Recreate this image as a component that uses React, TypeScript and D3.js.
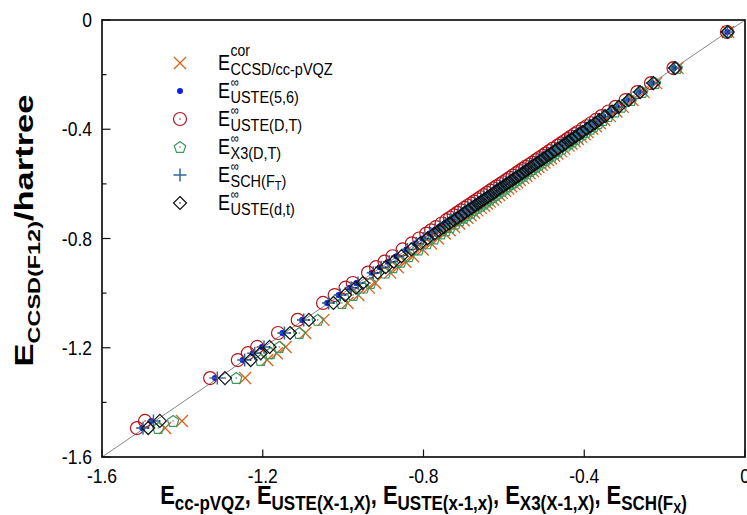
import React from 'react';
import * as d3 from 'd3';

// reference energies E_CCSD(F12) (y) per molecule
const refE = [-0.044,-0.176,-0.231,-0.264,-0.293,-0.318,-0.335,-0.352,-0.366,-0.378,-0.389,-0.398,-0.410,-0.418,-0.427,-0.436,-0.444,-0.452,-0.460,-0.471,-0.480,-0.489,-0.497,-0.506,-0.513,-0.522,-0.530,-0.538,-0.546,-0.553,-0.561,-0.570,-0.578,-0.586,-0.594,-0.601,-0.609,-0.617,-0.625,-0.633,-0.641,-0.649,-0.657,-0.665,-0.672,-0.680,-0.688,-0.697,-0.706,-0.715,-0.724,-0.733,-0.745,-0.758,-0.770,-0.782,-0.800,-0.818,-0.840,-0.865,-0.885,-0.905,-0.925,-0.963,-0.980,-1.007,-1.036,-1.098,-1.146,-1.197,-1.220,-1.245,-1.311,-1.468,-1.494];
const eVQZ = [-0.042,-0.168,-0.221,-0.252,-0.280,-0.304,-0.320,-0.336,-0.350,-0.361,-0.371,-0.380,-0.392,-0.399,-0.408,-0.416,-0.424,-0.432,-0.439,-0.450,-0.458,-0.467,-0.475,-0.483,-0.490,-0.499,-0.506,-0.514,-0.521,-0.528,-0.536,-0.544,-0.552,-0.560,-0.567,-0.574,-0.582,-0.589,-0.597,-0.605,-0.612,-0.620,-0.627,-0.635,-0.642,-0.649,-0.657,-0.666,-0.674,-0.683,-0.691,-0.700,-0.711,-0.724,-0.735,-0.747,-0.764,-0.781,-0.802,-0.826,-0.845,-0.864,-0.883,-0.920,-0.936,-0.962,-0.989,-1.049,-1.094,-1.143,-1.165,-1.189,-1.244,-1.401,-1.443];
const eUSTE56 = [-0.044,-0.177,-0.232,-0.265,-0.294,-0.319,-0.336,-0.353,-0.367,-0.380,-0.391,-0.400,-0.412,-0.420,-0.429,-0.438,-0.446,-0.454,-0.462,-0.473,-0.482,-0.491,-0.499,-0.508,-0.515,-0.524,-0.532,-0.540,-0.548,-0.555,-0.563,-0.572,-0.580,-0.588,-0.596,-0.603,-0.611,-0.619,-0.628,-0.636,-0.644,-0.652,-0.660,-0.668,-0.675,-0.683,-0.691,-0.700,-0.709,-0.718,-0.727,-0.736,-0.748,-0.761,-0.773,-0.785,-0.803,-0.821,-0.843,-0.868,-0.889,-0.909,-0.929,-0.967,-0.984,-1.011,-1.040,-1.102,-1.151,-1.202,-1.225,-1.250,-1.319,-1.478,-1.500];
const eUSTEDT = [-0.045,-0.178,-0.234,-0.268,-0.297,-0.322,-0.340,-0.357,-0.371,-0.383,-0.394,-0.404,-0.416,-0.424,-0.433,-0.442,-0.450,-0.458,-0.466,-0.478,-0.487,-0.496,-0.504,-0.513,-0.520,-0.529,-0.537,-0.546,-0.554,-0.561,-0.569,-0.578,-0.586,-0.594,-0.602,-0.609,-0.618,-0.626,-0.634,-0.642,-0.650,-0.658,-0.666,-0.674,-0.681,-0.690,-0.698,-0.707,-0.716,-0.725,-0.734,-0.743,-0.755,-0.769,-0.781,-0.793,-0.811,-0.829,-0.852,-0.877,-0.897,-0.918,-0.938,-0.976,-0.994,-1.021,-1.050,-1.113,-1.162,-1.214,-1.237,-1.262,-1.331,-1.493,-1.513];
const eX3DT = [-0.043,-0.170,-0.224,-0.256,-0.284,-0.308,-0.324,-0.341,-0.354,-0.366,-0.377,-0.385,-0.397,-0.405,-0.413,-0.422,-0.430,-0.438,-0.445,-0.456,-0.465,-0.473,-0.481,-0.490,-0.497,-0.505,-0.513,-0.521,-0.529,-0.535,-0.543,-0.552,-0.560,-0.567,-0.575,-0.582,-0.590,-0.597,-0.605,-0.613,-0.620,-0.628,-0.636,-0.644,-0.650,-0.658,-0.666,-0.675,-0.683,-0.692,-0.701,-0.710,-0.721,-0.734,-0.745,-0.757,-0.774,-0.792,-0.813,-0.837,-0.857,-0.876,-0.895,-0.932,-0.949,-0.975,-1.003,-1.063,-1.109,-1.159,-1.181,-1.205,-1.266,-1.423,-1.460];
const eSCH = [-0.044,-0.176,-0.231,-0.264,-0.293,-0.318,-0.335,-0.352,-0.366,-0.378,-0.389,-0.398,-0.410,-0.418,-0.427,-0.436,-0.444,-0.452,-0.460,-0.471,-0.480,-0.489,-0.497,-0.506,-0.513,-0.522,-0.530,-0.538,-0.546,-0.553,-0.561,-0.570,-0.578,-0.586,-0.594,-0.601,-0.609,-0.617,-0.625,-0.633,-0.641,-0.649,-0.657,-0.665,-0.672,-0.680,-0.688,-0.697,-0.706,-0.715,-0.724,-0.733,-0.745,-0.758,-0.770,-0.782,-0.800,-0.818,-0.840,-0.865,-0.885,-0.905,-0.925,-0.963,-0.980,-1.007,-1.036,-1.098,-1.146,-1.197,-1.220,-1.245,-1.313,-1.472,-1.498];
const eUSTEdt = [-0.043,-0.174,-0.228,-0.261,-0.289,-0.314,-0.331,-0.348,-0.362,-0.373,-0.384,-0.393,-0.405,-0.413,-0.422,-0.431,-0.439,-0.447,-0.454,-0.465,-0.474,-0.483,-0.491,-0.500,-0.507,-0.516,-0.524,-0.532,-0.539,-0.546,-0.554,-0.563,-0.571,-0.579,-0.587,-0.594,-0.602,-0.610,-0.618,-0.625,-0.633,-0.641,-0.649,-0.657,-0.664,-0.672,-0.680,-0.689,-0.698,-0.706,-0.715,-0.724,-0.736,-0.749,-0.761,-0.773,-0.790,-0.808,-0.830,-0.855,-0.874,-0.894,-0.914,-0.951,-0.968,-0.995,-1.024,-1.085,-1.132,-1.183,-1.205,-1.230,-1.294,-1.456,-1.485];

const xTickValues = [-1.6, -1.2, -0.8, -0.4, 0];
const xTickLabels = ['-1.6', '-1.2', '-0.8', '-0.4', '0'];
const yTickValues = [-1.6, -1.2, -0.8, -0.4, 0];
const yTickLabels = ['-1.6', '-1.2', '-0.8', '-0.4', '0'];
const yMinorTicks = [-1.4, -1.0, -0.6, -0.2];

const legendLabels = [
  { sup: 'cor', sub: 'CCSD/cc-pVQZ', subsub: '' },
  { sup: '\u221E', sub: 'USTE(5,6)', subsub: '' },
  { sup: '\u221E', sub: 'USTE(D,T)', subsub: '' },
  { sup: '\u221E', sub: 'X3(D,T)', subsub: '' },
  { sup: '\u221E', sub: 'SCH(F', subsub: 'T' },
  { sup: '\u221E', sub: 'USTE(d,t)', subsub: '' },
];

const FONT = "'Liberation Sans', Arial, Helvetica, sans-serif";
const ST = 1.18; // vertical text stretch

const W = 747, H = 515;
const L = 102, R = 745, T = 20, B = 457;
const xs = d3.scaleLinear().domain([-1.6, 0]).range([L, R]);
const ys = d3.scaleLinear().domain([-1.6, 0]).range([B, T]);

const C_X = '#d9601a';
const C_DOT = '#0a1ee6';
const C_CIRC = '#b3151b';
const C_PENT = '#3a9a62';
const C_PLUS = '#2c6a9e';
const C_DIAM = '#111111';

function pentPath(cx: number, cy: number, r: number) {
  const pts = d3.range(5).map(i => {
    const a = -Math.PI / 2 + i * 2 * Math.PI / 5;
    return [cx + r * Math.cos(a), cy + r * Math.sin(a)];
  });
  return 'M' + pts.map(p => p[0].toFixed(2) + ',' + p[1].toFixed(2)).join('L') + 'Z';
}

function Marker({ kind, cx, cy }: { kind: number; cx: number; cy: number }) {
  const s = 6;
  switch (kind) {
    case 0:
      return <path d={`M${cx - s},${cy - s}L${cx + s},${cy + s}M${cx - s},${cy + s}L${cx + s},${cy - s}`} stroke={C_X} strokeWidth={1.3} fill="none" />;
    case 1:
      return <circle cx={cx} cy={cy} r={3} fill={C_DOT} />;
    case 2:
      return <g><circle cx={cx} cy={cy} r={6.5} fill="none" stroke={C_CIRC} strokeWidth={1.2} /><circle cx={cx} cy={cy} r={0.8} fill={C_CIRC} /></g>;
    case 3:
      return <g><path d={pentPath(cx, cy + 0.5, 6)} fill="none" stroke={C_PENT} strokeWidth={1.2} /><circle cx={cx} cy={cy} r={0.8} fill={C_PENT} /></g>;
    case 4:
      return <path d={`M${cx - 6.5},${cy}L${cx + 6.5},${cy}M${cx},${cy - 6.5}L${cx},${cy + 6.5}`} stroke={C_PLUS} strokeWidth={1.5} fill="none" />;
    default:
      return <g><path d={`M${cx},${cy - 6.5}L${cx + 6.5},${cy}L${cx},${cy + 6.5}L${cx - 6.5},${cy}Z`} fill="none" stroke={C_DIAM} strokeWidth={1.2} /><circle cx={cx} cy={cy} r={0.8} fill={C_DIAM} /></g>;
  }
}

const seriesX = [eVQZ, eUSTE56, eUSTEDT, eX3DT, eSCH, eUSTEdt];

export default function App() {
  const legendX = 180;
  const legendY0 = 63;
  const legendDy = 28;
  return (
    <svg width={W} height={H} style={{ display: 'block', position: 'absolute', left: 0, top: 0, background: '#fff' }} fontFamily={FONT}>
      <rect x={0} y={0} width={W} height={H} fill="#fff" />
      {/* diagonal */}
      <line x1={xs(-1.6)} y1={ys(-1.6)} x2={xs(0)} y2={ys(0)} stroke="#888" strokeWidth={1} />
      {/* points */}
      {seriesX.map((arr, k) => (
        <g key={k}>
          {arr.map((v, i) => <Marker key={i} kind={k} cx={xs(v)} cy={ys(refE[i])} />)}
        </g>
      ))}
      {/* frame */}
      <rect x={L} y={T} width={R - L} height={B - T} fill="none" stroke="#111" strokeWidth={1.7} />
      {/* x ticks */}
      {xTickValues.map((v, i) => (
        <g key={'xt' + i}>
          <line x1={xs(v)} x2={xs(v)} y1={B} y2={B - 7.5} stroke="#111" strokeWidth={1.2} />
          <g transform={`translate(${xs(v)},${483}) scale(1,${ST})`}>
            <text x={0} y={0} textAnchor="middle" fontSize={17.5} fill="#000">{xTickLabels[i]}</text>
          </g>
        </g>
      ))}
      {/* y ticks */}
      {yTickValues.map((v, i) => (
        <g key={'yt' + i}>
          <line x1={L} x2={L + 8.5} y1={ys(v)} y2={ys(v)} stroke="#111" strokeWidth={1.2} />
          <g transform={`translate(${92},${ys(v) + 7}) scale(1,${ST})`}>
            <text x={0} y={0} textAnchor="end" fontSize={17.5} fill="#000">{yTickLabels[i]}</text>
          </g>
        </g>
      ))}
      {yMinorTicks.map((v, i) => (
        <line key={'ym' + i} x1={L} x2={L + 4.5} y1={ys(v)} y2={ys(v)} stroke="#111" strokeWidth={1.2} />
      ))}
      {/* legend */}
      {legendLabels.map((lab, i) => {
        const cy = legendY0 + i * legendDy;
        const base = cy + 7;
        const isInf = lab.sup === '\u221E';
        return (
          <g key={'lg' + i}>
            <Marker kind={i} cx={legendX} cy={cy} />
            <g transform={`translate(218,${base}) scale(1,${ST})`}>
              <text x={0} y={0} fontSize={18} fill="#000">E</text>
              <text x={12.5} y={isInf ? -9.5 : -11.5} fontSize={isInf ? 11.5 : 14} fill="#000">{lab.sup}</text>
              <text x={12.5} y={4} fontSize={14.5} fill="#000">
                {lab.sub}
                {lab.subsub ? <tspan fontSize={11} dy={3}>{lab.subsub}</tspan> : null}
                {lab.subsub ? <tspan dy={-3}>)</tspan> : null}
              </text>
            </g>
          </g>
        );
      })}
      {/* x title */}
      <g transform={`translate(${(L + R) / 2},${504}) scale(1,${ST})`}>
        <text x={0} y={0} textAnchor="middle" fontWeight="bold" fontSize={22} fill="#000">
          <tspan>E</tspan><tspan fontSize={17} dy={5}>cc-pVQZ</tspan>
          <tspan dy={-5}>, E</tspan><tspan fontSize={17} dy={5}>USTE(X-1,X)</tspan>
          <tspan dy={-5}>, E</tspan><tspan fontSize={17} dy={5}>USTE(x-1,x)</tspan>
          <tspan dy={-5}>, E</tspan><tspan fontSize={17} dy={5}>X3(X-1,X)</tspan>
          <tspan dy={-5}>, E</tspan><tspan fontSize={17} dy={5}>SCH(F</tspan><tspan fontSize={12} dy={3}>X</tspan><tspan fontSize={17} dy={-3}>)</tspan>
        </text>
      </g>
      {/* y title */}
      <g transform={`translate(${33},${(T + B) / 2 - 8}) scale(1,${1.38}) rotate(-90)`}>
        <text x={0} y={0} textAnchor="middle" fontWeight="bold" fontSize={25} fill="#000">
          <tspan>E</tspan><tspan fontSize={17} dy={7}>CCSD(F12)</tspan><tspan dy={-7}>/hartree</tspan>
        </text>
      </g>
    </svg>
  );
}
